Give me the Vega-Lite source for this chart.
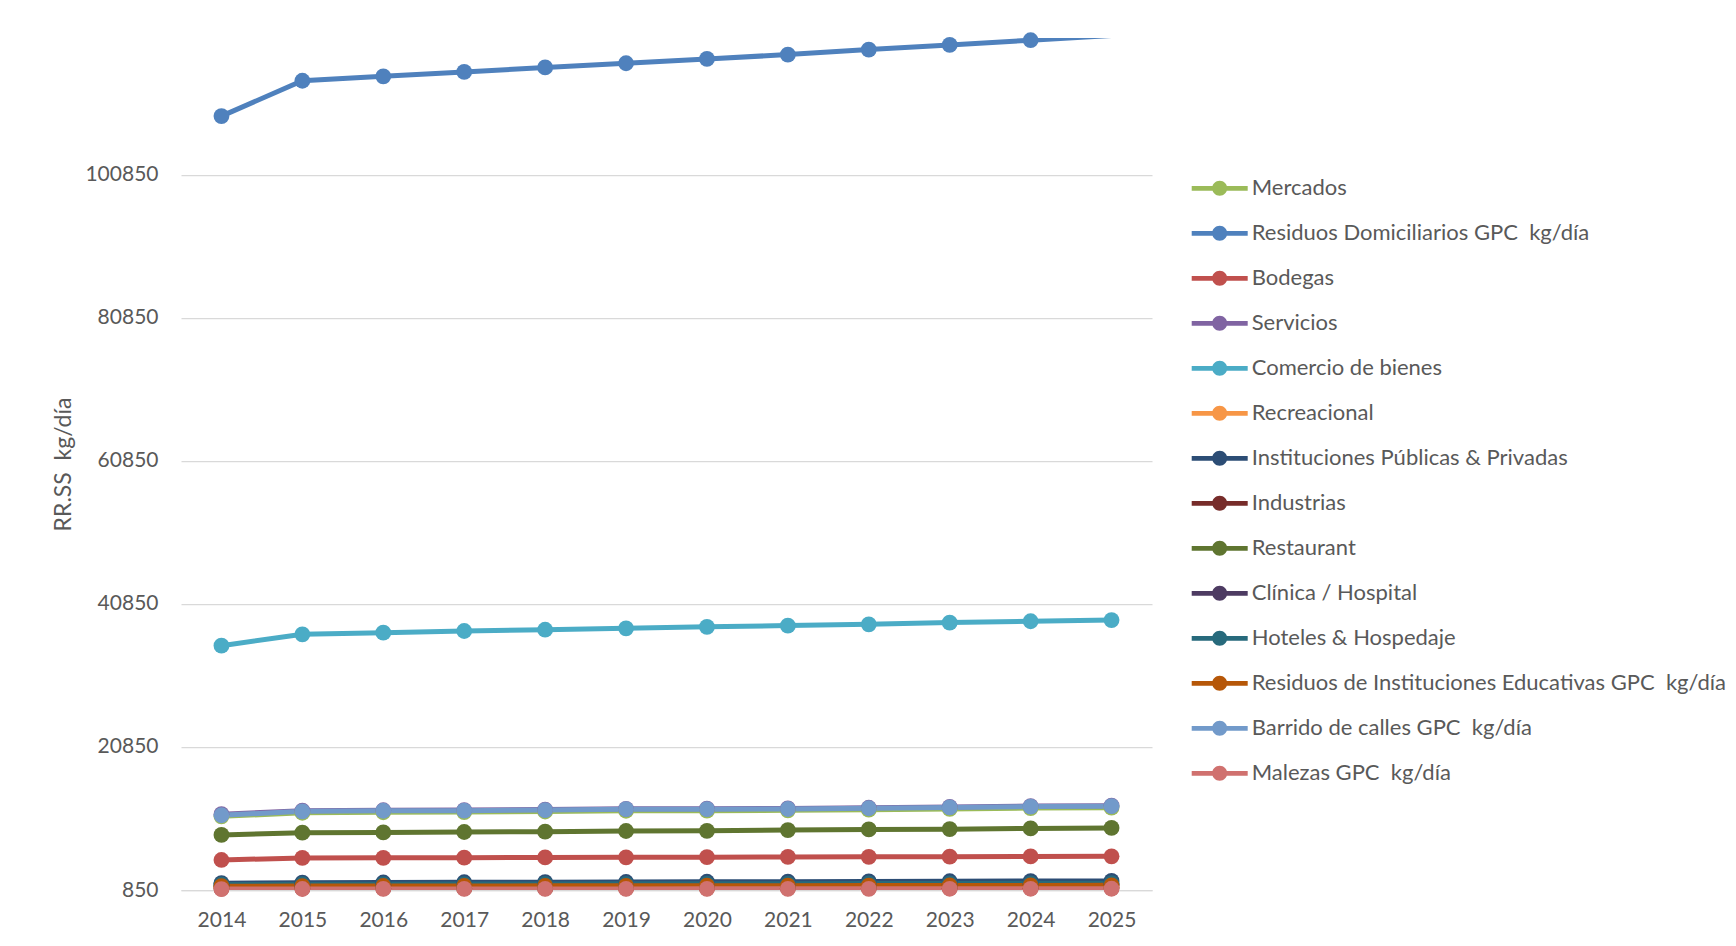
{
  "$schema": "https://vega.github.io/schema/vega-lite/v6.json",
  "autosize": {"type": "none"},
  "width": 971,
  "height": 852,
  "padding": {"left": 181, "top": 38, "right": 584, "bottom": 56},
  "background": "white",
  "config": {
    "view": {"stroke": null},
    "font": "Lato",
    "axis": {"labelFont": "Lato", "titleFont": "Lato", "labelColor": "#595959", "titleColor": "#595959"}
  },
  "data": {"values": [
    {"year":"2014","series":"Mercados","value":11150},{"year":"2015","series":"Mercados","value":11650},{"year":"2016","series":"Mercados","value":11720},{"year":"2017","series":"Mercados","value":11750},{"year":"2018","series":"Mercados","value":11830},{"year":"2019","series":"Mercados","value":11930},{"year":"2020","series":"Mercados","value":11950},{"year":"2021","series":"Mercados","value":11990},{"year":"2022","series":"Mercados","value":12080},{"year":"2023","series":"Mercados","value":12190},{"year":"2024","series":"Mercados","value":12310},{"year":"2025","series":"Mercados","value":12360},
    {"year":"2014","series":"Residuos Domiciliarios GPC \u00a0kg/día","value":109080},{"year":"2015","series":"Residuos Domiciliarios GPC \u00a0kg/día","value":114020},{"year":"2016","series":"Residuos Domiciliarios GPC \u00a0kg/día","value":114640},{"year":"2017","series":"Residuos Domiciliarios GPC \u00a0kg/día","value":115260},{"year":"2018","series":"Residuos Domiciliarios GPC \u00a0kg/día","value":115880},{"year":"2019","series":"Residuos Domiciliarios GPC \u00a0kg/día","value":116470},{"year":"2020","series":"Residuos Domiciliarios GPC \u00a0kg/día","value":117070},{"year":"2021","series":"Residuos Domiciliarios GPC \u00a0kg/día","value":117680},{"year":"2022","series":"Residuos Domiciliarios GPC \u00a0kg/día","value":118380},{"year":"2023","series":"Residuos Domiciliarios GPC \u00a0kg/día","value":119030},{"year":"2024","series":"Residuos Domiciliarios GPC \u00a0kg/día","value":119690},{"year":"2025","series":"Residuos Domiciliarios GPC \u00a0kg/día","value":120350},
    {"year":"2014","series":"Bodegas","value":5050},{"year":"2015","series":"Bodegas","value":5330},{"year":"2016","series":"Bodegas","value":5350},{"year":"2017","series":"Bodegas","value":5370},{"year":"2018","series":"Bodegas","value":5400},{"year":"2019","series":"Bodegas","value":5420},{"year":"2020","series":"Bodegas","value":5440},{"year":"2021","series":"Bodegas","value":5470},{"year":"2022","series":"Bodegas","value":5490},{"year":"2023","series":"Bodegas","value":5510},{"year":"2024","series":"Bodegas","value":5540},{"year":"2025","series":"Bodegas","value":5560},
    {"year":"2014","series":"Servicios","value":11450},{"year":"2015","series":"Servicios","value":11950},{"year":"2016","series":"Servicios","value":12000},{"year":"2017","series":"Servicios","value":12030},{"year":"2018","series":"Servicios","value":12100},{"year":"2019","series":"Servicios","value":12200},{"year":"2020","series":"Servicios","value":12220},{"year":"2021","series":"Servicios","value":12260},{"year":"2022","series":"Servicios","value":12350},{"year":"2023","series":"Servicios","value":12470},{"year":"2024","series":"Servicios","value":12590},{"year":"2025","series":"Servicios","value":12640},
    {"year":"2014","series":"Comercio de bienes","value":35020},{"year":"2015","series":"Comercio de bienes","value":36610},{"year":"2016","series":"Comercio de bienes","value":36840},{"year":"2017","series":"Comercio de bienes","value":37070},{"year":"2018","series":"Comercio de bienes","value":37250},{"year":"2019","series":"Comercio de bienes","value":37450},{"year":"2020","series":"Comercio de bienes","value":37650},{"year":"2021","series":"Comercio de bienes","value":37830},{"year":"2022","series":"Comercio de bienes","value":38000},{"year":"2023","series":"Comercio de bienes","value":38250},{"year":"2024","series":"Comercio de bienes","value":38430},{"year":"2025","series":"Comercio de bienes","value":38600},
    {"year":"2014","series":"Recreacional","value":1150},{"year":"2015","series":"Recreacional","value":1170},{"year":"2016","series":"Recreacional","value":1180},{"year":"2017","series":"Recreacional","value":1190},{"year":"2018","series":"Recreacional","value":1195},{"year":"2019","series":"Recreacional","value":1200},{"year":"2020","series":"Recreacional","value":1210},{"year":"2021","series":"Recreacional","value":1220},{"year":"2022","series":"Recreacional","value":1225},{"year":"2023","series":"Recreacional","value":1235},{"year":"2024","series":"Recreacional","value":1245},{"year":"2025","series":"Recreacional","value":1250},
    {"year":"2014","series":"Instituciones Públicas & Privadas","value":1800},{"year":"2015","series":"Instituciones Públicas & Privadas","value":1880},{"year":"2016","series":"Instituciones Públicas & Privadas","value":1900},{"year":"2017","series":"Instituciones Públicas & Privadas","value":1930},{"year":"2018","series":"Instituciones Públicas & Privadas","value":1950},{"year":"2019","series":"Instituciones Públicas & Privadas","value":1970},{"year":"2020","series":"Instituciones Públicas & Privadas","value":2000},{"year":"2021","series":"Instituciones Públicas & Privadas","value":2020},{"year":"2022","series":"Instituciones Públicas & Privadas","value":2050},{"year":"2023","series":"Instituciones Públicas & Privadas","value":2070},{"year":"2024","series":"Instituciones Públicas & Privadas","value":2100},{"year":"2025","series":"Instituciones Públicas & Privadas","value":2120},
    {"year":"2014","series":"Industrias","value":1050},{"year":"2015","series":"Industrias","value":1060},{"year":"2016","series":"Industrias","value":1065},{"year":"2017","series":"Industrias","value":1070},{"year":"2018","series":"Industrias","value":1075},{"year":"2019","series":"Industrias","value":1080},{"year":"2020","series":"Industrias","value":1085},{"year":"2021","series":"Industrias","value":1090},{"year":"2022","series":"Industrias","value":1100},{"year":"2023","series":"Industrias","value":1105},{"year":"2024","series":"Industrias","value":1110},{"year":"2025","series":"Industrias","value":1120},
    {"year":"2014","series":"Restaurant","value":8550},{"year":"2015","series":"Restaurant","value":8870},{"year":"2016","series":"Restaurant","value":8900},{"year":"2017","series":"Restaurant","value":8960},{"year":"2018","series":"Restaurant","value":9010},{"year":"2019","series":"Restaurant","value":9100},{"year":"2020","series":"Restaurant","value":9130},{"year":"2021","series":"Restaurant","value":9230},{"year":"2022","series":"Restaurant","value":9320},{"year":"2023","series":"Restaurant","value":9360},{"year":"2024","series":"Restaurant","value":9460},{"year":"2025","series":"Restaurant","value":9530},
    {"year":"2014","series":"Clínica / Hospital","value":1500},{"year":"2015","series":"Clínica / Hospital","value":1520},{"year":"2016","series":"Clínica / Hospital","value":1530},{"year":"2017","series":"Clínica / Hospital","value":1545},{"year":"2018","series":"Clínica / Hospital","value":1560},{"year":"2019","series":"Clínica / Hospital","value":1570},{"year":"2020","series":"Clínica / Hospital","value":1585},{"year":"2021","series":"Clínica / Hospital","value":1600},{"year":"2022","series":"Clínica / Hospital","value":1610},{"year":"2023","series":"Clínica / Hospital","value":1625},{"year":"2024","series":"Clínica / Hospital","value":1640},{"year":"2025","series":"Clínica / Hospital","value":1650},
    {"year":"2014","series":"Hoteles & Hospedaje","value":1620},{"year":"2015","series":"Hoteles & Hospedaje","value":1650},{"year":"2016","series":"Hoteles & Hospedaje","value":1665},{"year":"2017","series":"Hoteles & Hospedaje","value":1680},{"year":"2018","series":"Hoteles & Hospedaje","value":1695},{"year":"2019","series":"Hoteles & Hospedaje","value":1710},{"year":"2020","series":"Hoteles & Hospedaje","value":1725},{"year":"2021","series":"Hoteles & Hospedaje","value":1740},{"year":"2022","series":"Hoteles & Hospedaje","value":1755},{"year":"2023","series":"Hoteles & Hospedaje","value":1770},{"year":"2024","series":"Hoteles & Hospedaje","value":1785},{"year":"2025","series":"Hoteles & Hospedaje","value":1800},
    {"year":"2014","series":"Residuos de Instituciones Educativas GPC \u00a0kg/día","value":1380},{"year":"2015","series":"Residuos de Instituciones Educativas GPC \u00a0kg/día","value":1400},{"year":"2016","series":"Residuos de Instituciones Educativas GPC \u00a0kg/día","value":1410},{"year":"2017","series":"Residuos de Instituciones Educativas GPC \u00a0kg/día","value":1420},{"year":"2018","series":"Residuos de Instituciones Educativas GPC \u00a0kg/día","value":1430},{"year":"2019","series":"Residuos de Instituciones Educativas GPC \u00a0kg/día","value":1440},{"year":"2020","series":"Residuos de Instituciones Educativas GPC \u00a0kg/día","value":1450},{"year":"2021","series":"Residuos de Instituciones Educativas GPC \u00a0kg/día","value":1460},{"year":"2022","series":"Residuos de Instituciones Educativas GPC \u00a0kg/día","value":1470},{"year":"2023","series":"Residuos de Instituciones Educativas GPC \u00a0kg/día","value":1480},{"year":"2024","series":"Residuos de Instituciones Educativas GPC \u00a0kg/día","value":1490},{"year":"2025","series":"Residuos de Instituciones Educativas GPC \u00a0kg/día","value":1500},
    {"year":"2014","series":"Barrido de calles GPC \u00a0kg/día","value":11300},{"year":"2015","series":"Barrido de calles GPC \u00a0kg/día","value":11850},{"year":"2016","series":"Barrido de calles GPC \u00a0kg/día","value":11930},{"year":"2017","series":"Barrido de calles GPC \u00a0kg/día","value":11950},{"year":"2018","series":"Barrido de calles GPC \u00a0kg/día","value":12030},{"year":"2019","series":"Barrido de calles GPC \u00a0kg/día","value":12150},{"year":"2020","series":"Barrido de calles GPC \u00a0kg/día","value":12150},{"year":"2021","series":"Barrido de calles GPC \u00a0kg/día","value":12180},{"year":"2022","series":"Barrido de calles GPC \u00a0kg/día","value":12280},{"year":"2023","series":"Barrido de calles GPC \u00a0kg/día","value":12400},{"year":"2024","series":"Barrido de calles GPC \u00a0kg/día","value":12520},{"year":"2025","series":"Barrido de calles GPC \u00a0kg/día","value":12570},
    {"year":"2014","series":"Malezas GPC \u00a0kg/día","value":980},{"year":"2015","series":"Malezas GPC \u00a0kg/día","value":990},{"year":"2016","series":"Malezas GPC \u00a0kg/día","value":995},{"year":"2017","series":"Malezas GPC \u00a0kg/día","value":1000},{"year":"2018","series":"Malezas GPC \u00a0kg/día","value":1000},{"year":"2019","series":"Malezas GPC \u00a0kg/día","value":1005},{"year":"2020","series":"Malezas GPC \u00a0kg/día","value":1010},{"year":"2021","series":"Malezas GPC \u00a0kg/día","value":1010},{"year":"2022","series":"Malezas GPC \u00a0kg/día","value":1015},{"year":"2023","series":"Malezas GPC \u00a0kg/día","value":1020},{"year":"2024","series":"Malezas GPC \u00a0kg/día","value":1020},{"year":"2025","series":"Malezas GPC \u00a0kg/día","value":1025}
  ]},
  "encoding": {
    "x": {
      "field": "year", "type": "ordinal",
      "scale": {"type": "point", "padding": 0.5},
      "axis": {"title": null, "labelAngle": 0, "labelFontSize": 21, "labelPadding": 19, "ticks": false, "domain": true, "domainColor": "#D9D9D9", "domainWidth": 1.25, "grid": false}
    },
    "y": {
      "field": "value", "type": "quantitative",
      "scale": {"domain": [850, 120000], "nice": false, "zero": false},
      "axis": {
        "title": "RR.SS \u00a0kg/día", "titleFontSize": 23, "titleFontWeight": "normal",
        "titleX": -118, "titleY": 426, "titleAngle": -90, "titleBaseline": "middle", "titleAlign": "center",
        "values": [850, 20850, 40850, 60850, 80850, 100850],
        "format": "d", "labelFontSize": 21, "labelPadding": 23, "ticks": false, "domain": false,
        "grid": true, "gridColor": "#D9D9D9", "gridWidth": 1.25
      }
    },
    "color": {
      "field": "series", "type": "nominal",
      "scale": {
        "domain": ["Mercados", "Residuos Domiciliarios GPC \u00a0kg/día", "Bodegas", "Servicios", "Comercio de bienes", "Recreacional", "Instituciones Públicas & Privadas", "Industrias", "Restaurant", "Clínica / Hospital", "Hoteles & Hospedaje", "Residuos de Instituciones Educativas GPC \u00a0kg/día", "Barrido de calles GPC \u00a0kg/día", "Malezas GPC \u00a0kg/día"],
        "range": ["#9BBB59", "#4F81BD", "#C0504D", "#8064A2", "#4BACC6", "#F79646", "#2C4D75", "#772C2A", "#5F7530", "#4D3B62", "#276A7C", "#B65708", "#729ACA", "#D0716F"]
      },
      "legend": {
        "orient": "none", "legendX": 1018.7, "legendY": 130.3, "title": null, "padding": 0,
        "symbolType": "M-1.4,-0.12L1.4,-0.12L1.4,0.12L-1.4,0.12Z M-0.375,0A0.375,0.375,0,1,1,0.375,0A0.375,0.375,0,1,1,-0.375,0Z",
        "symbolSize": 1600, "symbolStrokeWidth": 0, "rowPadding": 14, "labelOffset": 12,
        "labelFont": "Lato", "labelFontSize": 22, "labelColor": "#595959", "labelLimit": 700,
        "encode": {"symbols": {"update": {"fill": {"scale": "color", "field": "value"}, "stroke": {"value": "transparent"}, "opacity": {"value": 1}}}}
      }
    }
  },
  "layer": [
    {"mark": {"type": "line", "strokeWidth": 5, "clip": true}},
    {"transform": [{"filter": "datum.value <= 120000"}], "mark": {"type": "point", "filled": true, "opacity": 1, "size": 250, "clip": false}}
  ]
}
